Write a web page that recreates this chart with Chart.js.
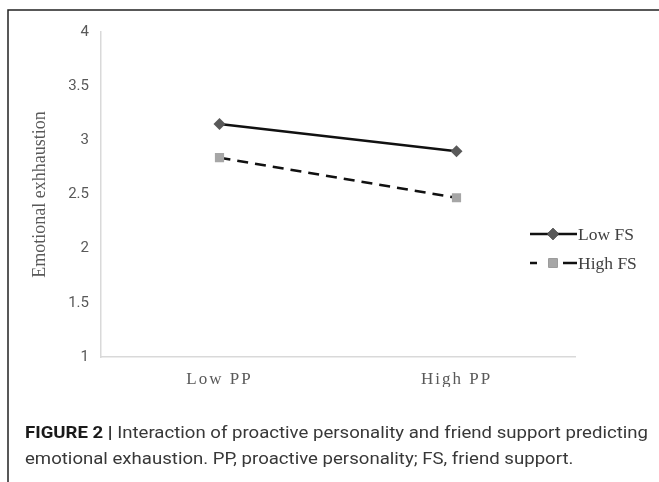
<!DOCTYPE html>
<html>
<head>
<meta charset="utf-8">
<script src="https://cdn.jsdelivr.net/npm/chart.js@4"></script>
<style>
  html, body { margin: 0; padding: 0; background: #fff; }
  #wrap { width: 659px; height: 482px; position: relative; }
</style>
</head>
<body>
<div id="wrap"><canvas id="fig2"></canvas></div>
<script>
// data
const categories = ['Low PP', 'High PP'];
const lowFS = [3.15, 2.90];
const highFS = [2.84, 2.47];
const seriesNames = ['Low FS', 'High FS'];
const yMin = 1, yMax = 4, yStep = 0.5;
const yTickLabels = ['1', '1.5', '2', '2.5', '3', '3.5', '4'];
const yTitle = 'Emotional exhhaustion';
const captionBold = 'FIGURE 2 |';
const captionLine1 = ' Interaction of proactive personality and friend support predicting';
const captionLine2 = 'emotional exhaustion. PP, proactive personality; FS, friend support.';

const SERIF = "'Liberation Serif', 'DejaVu Serif', serif";
const SANS = "Roboto, 'Liberation Sans', sans-serif";

// frame, caption and legend are drawn on the same canvas
const figurePlugin = {
    id: 'figureExtras',
    beforeDraw(chart) {
        const ctx = chart.ctx;
        ctx.save();
        ctx.strokeStyle = '#222';
        ctx.lineWidth = 1.5;
        ctx.beginPath();
        ctx.moveTo(8, 482);
        ctx.lineTo(8, 10);
        ctx.lineTo(659, 10);
        ctx.stroke();
        ctx.restore();
    },
    afterDatasetsDraw(chart) {
        // x tick labels are on a later layer; spread their letters like the original
        chart.ctx.letterSpacing = '2px';
    },
    afterDraw(chart) {
        const ctx = chart.ctx;
        ctx.letterSpacing = '0px';

        // legend
        ctx.save();
        const rows = [234, 263];
        chart.data.datasets.forEach((ds, i) => {
            const y = rows[i];
            ctx.strokeStyle = ds.borderColor;
            ctx.lineWidth = ds.borderWidth;
            ctx.beginPath();
            if (ds.borderDash) {
                ctx.moveTo(530, y); ctx.lineTo(537, y);
                ctx.moveTo(563, y); ctx.lineTo(577, y);
            } else {
                ctx.moveTo(530, y); ctx.lineTo(577, y);
            }
            ctx.stroke();
            Chart.helpers.drawPoint(ctx, {
                pointStyle: ds.pointStyle,
                radius: ds.pointRadius,
                rotation: 0,
                borderWidth: 0
            }, 553, y);
            ctx.fillStyle = ds.pointBackgroundColor;
            ctx.fill();
            ctx.fillStyle = '#404040';
            ctx.font = '17.5px ' + SERIF;
            ctx.textBaseline = 'middle';
            ctx.textAlign = 'left';
            ctx.fillText(ds.label, 578, y + 1);
        });
        ctx.restore();

        // caption
        ctx.save();
        const boldFont = 'bold 17px ' + SANS;
        const regFont = '17px ' + SANS;
        ctx.font = boldFont;
        const wBold = ctx.measureText(captionBold).width;
        ctx.font = regFont;
        const w1 = ctx.measureText(captionLine1).width;
        const sx = 623 / (wBold + w1);
        ctx.translate(25, 0);
        ctx.scale(sx, 1);
        ctx.textBaseline = 'alphabetic';
        ctx.fillStyle = '#1a1a1a';
        ctx.font = boldFont;
        ctx.fillText(captionBold, 0, 438);
        ctx.fillStyle = '#383838';
        ctx.font = regFont;
        ctx.fillText(captionLine1, wBold, 438);
        ctx.fillText(captionLine2, 0, 464);
        ctx.restore();
    }
};

const ctx = document.getElementById('fig2').getContext('2d');

new Chart(ctx, {
    type: 'line',
    data: {
        labels: categories,
        datasets: [{
            label: seriesNames[0],
            data: lowFS,
            borderColor: '#111',
            borderWidth: 2.5,
            pointStyle: 'rectRot',
            pointRadius: 6,
            pointBackgroundColor: '#595959',
            pointBorderWidth: 0,
            tension: 0
        }, {
            label: seriesNames[1],
            data: highFS,
            borderColor: '#111',
            borderWidth: 2.5,
            borderDash: [11, 7],
            pointStyle: 'rect',
            pointRadius: 6.5,
            pointBackgroundColor: '#a6a6a6',
            pointBorderWidth: 0,
            tension: 0
        }]
    },
    options: {
        responsive: true,
        maintainAspectRatio: false,
        animation: false,
        devicePixelRatio: 1,
        layout: { padding: { top: 32, right: 84, bottom: 95, left: 8 } },
        plugins: {
            legend: { display: false },
            tooltip: { enabled: false }
        },
        scales: {
            x: {
                offset: true,
                grid: { display: false, drawTicks: false },
                border: { display: true, color: '#d9d9d9', width: 1.5 },
                ticks: {
                    z: 1,
                    padding: 12,
                    color: '#595959',
                    font: { family: SERIF, size: 17 }
                },
                afterFit: (scale) => { scale.height = 30; }
            },
            y: {
                min: yMin,
                max: yMax,
                grid: { display: false, drawTicks: false },
                border: { display: true, color: '#d9d9d9', width: 1.5 },
                ticks: {
                    stepSize: yStep,
                    padding: 12,
                    color: '#595959',
                    font: { family: SANS, size: 15 },
                    callback: (value, index) => yTickLabels[index]
                },
                title: {
                    display: true,
                    text: yTitle,
                    color: '#595959',
                    font: { family: SERIF, size: 18 },
                    padding: { top: 21, bottom: 0 }
                },
                afterFit: (scale) => { scale.width = 93; }
            }
        }
    },
    plugins: [figurePlugin]
});
</script>
</body>
</html>
